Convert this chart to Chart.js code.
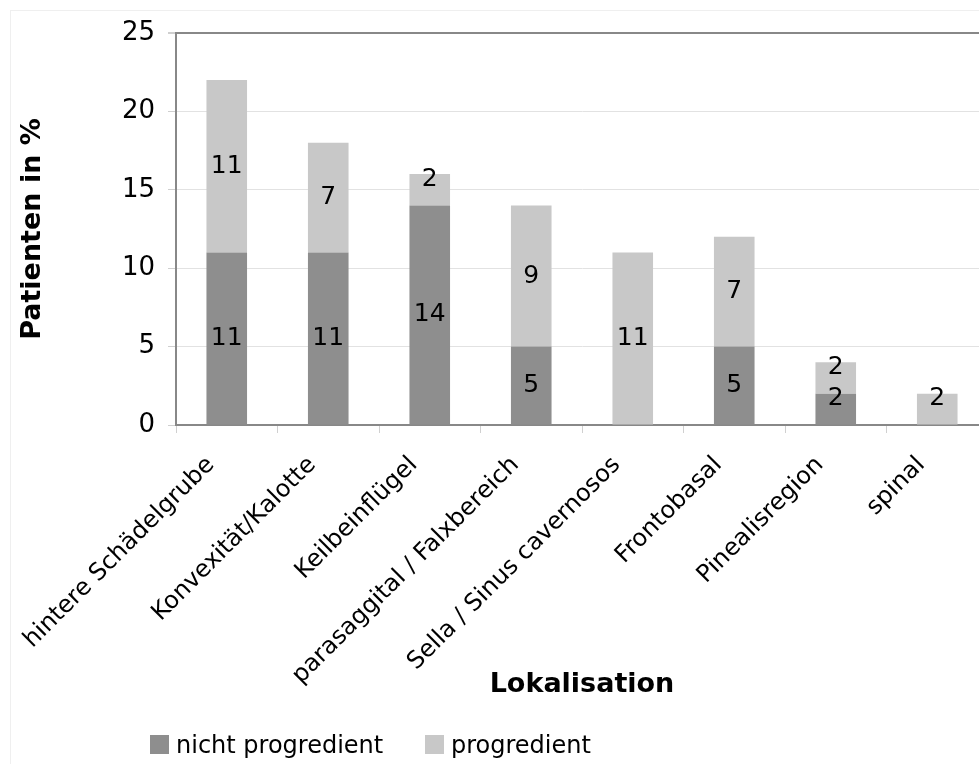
<!DOCTYPE html>
<html>
<head>
<meta charset="utf-8">
<script src="https://cdn.jsdelivr.net/npm/chart.js@4.4.1/dist/chart.umd.min.js"></script>
<style>
  html, body { margin: 0; padding: 0; background: #fff; overflow: hidden; }
  #wrap { position: relative; width: 979px; height: 764px; overflow: hidden; }
  #frame { position: absolute; left: 10px; top: 10px; right: 0; bottom: 0; border-top: 1px solid #efefef; border-left: 1px solid #efefef; }
  #chart { position: absolute; left: 0; top: 0; }
  .legend { position: absolute; top: 731px; font-family: 'DejaVu Sans', sans-serif; font-size: 24px; color: #000; white-space: nowrap; }
  .legend span.box { display: inline-block; width: 19px; height: 19px; vertical-align: -1px; margin-right: 7px; }
</style>
</head>
<body>
<div id="wrap">
  <div id="frame"></div>
  <canvas id="chart" width="990" height="764"></canvas>
  <div class="legend" style="left:150px"><span class="box" style="background:#8e8e8e"></span>nicht progredient</div>
  <div class="legend" style="left:425px"><span class="box" style="background:#c8c8c8"></span>progredient</div>
</div>
<script>
// Lokalisation der Tumoren
var categories = [
  'hintere Schädelgrube',
  'Konvexität/Kalotte',
  'Keilbeinflügel',
  'parasaggital / Falxbereich',
  'Sella / Sinus cavernosos',
  'Frontobasal',
  'Pinealisregion',
  'spinal'
];
var nichtProgredient = [11, 11, 14, 5, 0, 5, 2, 0];
var progredient      = [11, 7, 2, 9, 11, 7, 2, 2];
var yTicks = [0, 5, 10, 15, 20, 25];

Chart.defaults.font.family = "'DejaVu Sans', Verdana, sans-serif";
Chart.defaults.color = '#000';

// zahlen in die balken schreiben
var barLabels = {
  id: 'barLabels',
  afterDatasetsDraw: function(chart) {
    var ctx = chart.ctx;
    ctx.save();
    ctx.font = "25px 'DejaVu Sans'";
    ctx.fillStyle = '#000';
    ctx.textAlign = 'center';
    ctx.textBaseline = 'middle';
    chart.data.datasets.forEach(function(ds, i) {
      chart.getDatasetMeta(i).data.forEach(function(bar, j) {
        var v = ds.data[j];
        if (!v) return;
        var h = bar.base - bar.y;
        var y = h < 40 ? bar.y + 5 : (bar.y + bar.base) / 2;
        ctx.fillText(String(v), bar.x, y);
      });
    });
    ctx.restore();
  }
};

var ctx = document.getElementById('chart').getContext('2d');
var myChart = new Chart(ctx, {
  type: 'bar',
  data: {
    labels: categories,
    datasets: [
      { label: 'nicht progredient', data: nichtProgredient, backgroundColor: '#8e8e8e', borderWidth: 0 },
      { label: 'progredient', data: progredient, backgroundColor: '#c8c8c8', borderWidth: 0 }
    ]
  },
  options: {
    responsive: false,
    animation: false,
    barPercentage: 0.4,
    categoryPercentage: 1,
    layout: { padding: { top: 33, left: 0, right: 2, bottom: 0 } },
    plugins: {
      legend: { display: false },
      tooltip: { enabled: false }
    },
    scales: {
      x: {
        stacked: true,
        border: { color: '#888', width: 2 },
        grid: { drawOnChartArea: false, drawTicks: true, tickLength: 8, tickColor: '#d0d0d0', offset: true },
        ticks: { font: { size: 24 }, minRotation: 45, maxRotation: 45, autoSkip: false, padding: 18, labelOffset: -16 },
        title: { display: true, text: 'Lokalisation', font: { size: 27, weight: 'bold' }, padding: { top: 0, bottom: 63 } },
        afterFit: function(s) { s.height = 339; s.paddingLeft = 0; s.paddingRight = 0; }
      },
      y: {
        stacked: true,
        min: 0,
        max: 25,
        border: { color: '#888', width: 2 },
        grid: {
          color: function(c) { return c.tick && c.tick.value === 25 ? '#888' : '#e2e2e2'; },
          lineWidth: function(c) { return c.tick && c.tick.value === 25 ? 2 : 1; },
          tickLength: 8,
          tickColor: '#cfcfcf'
        },
        afterBuildTicks: function(s) { s.ticks = yTicks.map(function(v) { return { value: v }; }); },
        ticks: { font: { size: 26 }, padding: 13 },
        title: { display: true, text: 'Patienten in %', font: { size: 27, weight: 'bold' }, padding: { top: 17, bottom: 0 } },
        afterFit: function(s) { s.width = 176; s.paddingTop = 0; s.paddingBottom = 0; }
      }
    }
  },
  plugins: [barLabels]
});
</script>
</body>
</html>
